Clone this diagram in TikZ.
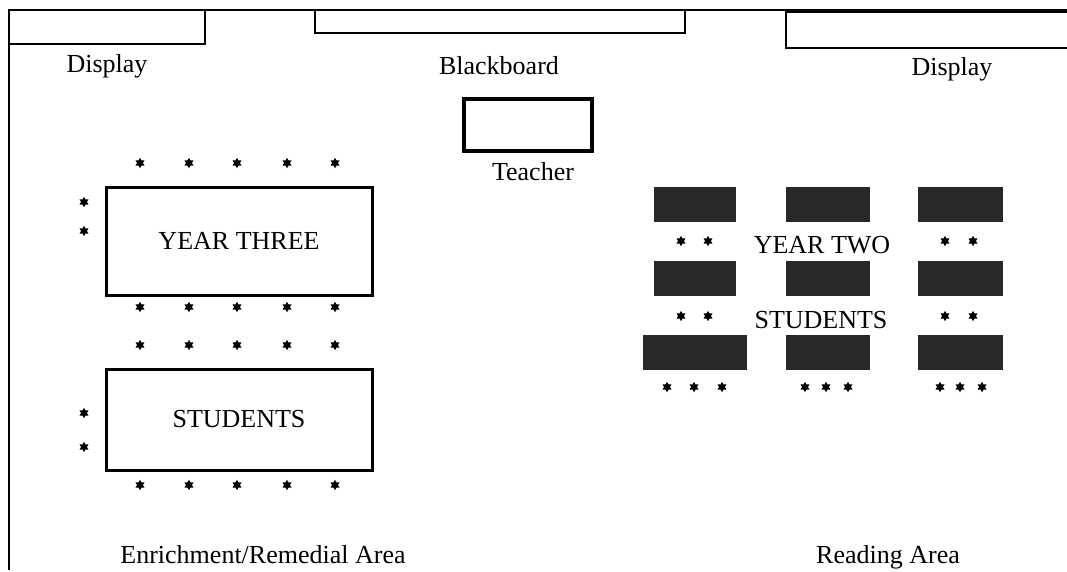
\documentclass[tikz,border=0pt]{standalone}
\usepackage{fontspec}
\setmainfont{Liberation Serif}
\usetikzlibrary{positioning}
\definecolor{deskDark}{HTML}{282828}
\tikzset{
  wall/.style={draw=black, line width=2.2pt},
  board/.style={rectangle, draw=black, line width=2.2pt, inner sep=0pt},
  table/.style={rectangle, draw=black, line width=3pt, inner sep=0pt,
                minimum width=266pt, font=\fontsize{26}{30}\selectfont},
  desk/.style={rectangle, fill=deskDark, inner sep=0pt, minimum height=35pt},
  tag/.style={anchor=base, inner sep=0pt, font=\fontsize{26}{30}\selectfont},
  seat/.pic={\fill (90:5.2) \foreach \a [evaluate=\a as \r using {mod(\a,2)==0 ? 5.2 : 2.9}]
               in {1,...,11} { -- ({90+\a*30}:\r) } -- cycle;},
}
\begin{document}
\begin{tikzpicture}[x=1pt, y=-1pt]
  \useasboundingbox (0,0) rectangle (1067,571);
  % walls
  \coordinate (wallB) at (9,570);
  \coordinate (wallC) at (9,10);
  \coordinate (wallR) at (1067,10);
  \draw[wall] (wallB) -- (wallC) -- (wallR);

  % boards on the front wall
  \node[board, minimum width=196pt, minimum height=34pt] (dispL) at (107,27) {};
  \node[board, minimum width=370pt, minimum height=23pt] (bboard) at (500,21.5) {};
  \node[board, minimum width=290pt, minimum height=36pt] (dispR) at (931,30) {};
  \node[tag] (dispLtxt) at (107,72) {Display};
  \node[tag] (bboardtxt) at (499,74) {Blackboard};
  \node[tag] (dispRtxt) at (952,75) {Display};

  % teacher
  \node[board, line width=3.2pt, minimum width=128pt, minimum height=52pt] (teacher) at (528,125) {};
  \node[tag] (teachertxt) at (533,180) {Teacher};

  % year three tables
  \node[table, minimum height=108pt] (tabA) at (239,241) {YEAR THREE};
  \node[table, minimum height=101pt] (tabB) at (239,419.5) {STUDENTS};
  \foreach \x in {140,189,237,287,335} {
    \pic at (\x,163) {seat};
    \pic at (\x,307) {seat};
    \pic at (\x,345) {seat};
    \pic at (\x,485) {seat};
  }
  \foreach \y in {202,231,413,447}
    \pic at (84,\y) {seat};

  % year two desks
  \foreach \n/\x/\y/\w in {1/695/204.5/82, 2/828/204.5/84, 3/960.5/204.5/85,
                           4/695/278/82,   5/828/278/84,   6/960.5/278/85,
                           7/695/352.5/104, 8/828/352.5/84, 9/960.5/352.5/85}
    \node[desk, minimum width=\w pt] (desk\n) at (\x,\y) {};
  \node[tag] (yeartwo) at (822,253) {YEAR TWO};
  \node[tag] (studtwo) at (821,328) {STUDENTS};
  \foreach \x in {681,708,945,973} {
    \pic at (\x,241) {seat};
    \pic at (\x,316) {seat};
  }
  \foreach \x in {667,694,722,805,826,848,940,960,982}
    \pic at (\x,387) {seat};

  % areas
  \node[tag] (enrich) at (263,563) {Enrichment/Remedial Area};
  \node[tag] (reading) at (888,563) {Reading Area};
\end{tikzpicture}
\end{document}
